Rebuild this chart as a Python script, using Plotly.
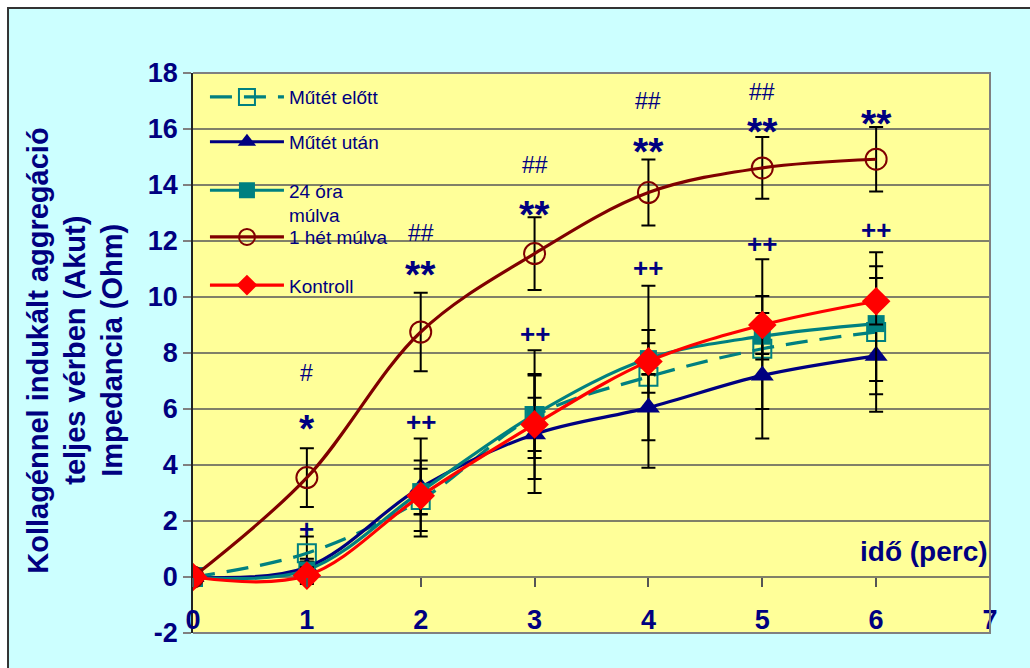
import plotly.graph_objects as go

# Time points (minutes)
minutes = [0, 1, 2, 3, 4, 5, 6]

# Value axis ticks and their labels (plain hyphen for negatives)
y_ticks = [-2, 0, 2, 4, 6, 8, 10, 12, 14, 16, 18]
y_tick_labels = ["-2", "0", "2", "4", "6", "8", "10", "12", "14", "16", "18"]

# Mean impedance (Ohm) and SD for each group
mutet_elott = [0, 0.85, 2.75, 5.75, 7.15, 8.15, 8.75]
mutet_elott_sd = [0, 0.6, 0.5, 1.5, 3.25, 3.2, 2.85]

mutet_utan = [0, 0.35, 3.2, 5.1, 6.05, 7.2, 7.9]
mutet_utan_sd = [0, 0.3, 1.75, 2.1, 1.17, 1.2, 1.37]

ora24 = [0, 0.25, 3.05, 5.8, 7.8, 8.6, 9.05]
ora24_sd = [0, 0.3, 0.82, 2.3, 0.55, 0.83, 2.05]

het1 = [0, 3.55, 8.75, 11.55, 13.73, 14.61, 14.92]
het1_sd = [0, 1.05, 1.4, 1.3, 1.18, 1.1, 1.15]

kontroll = [0, 0.05, 2.9, 5.45, 7.7, 9.0, 9.85]
kontroll_sd = [0, 0.3, 1.26, 0.95, 1.12, 1.04, 0.83]

# Significance marks: (x, text, y level)
hash_marks = [(1, "#", 7.28), (2, "##", 12.3), (3, "##", 14.7),
              (4, "##", 16.99), (5, "##", 17.32), (6, "#", 18.1)]
star_marks = [(1, "*", 5.3), (2, "**", 10.8), (3, "**", 12.95),
              (4, "**", 15.2), (5, "**", 15.9), (6, "**", 16.2)]
plus_marks = [(1, "+", 1.72), (2, "++", 5.52), (3, "++", 8.68),
              (4, "++", 11.04), (5, "++", 11.9), (6, "++", 12.4)]

NAVY = "#000080"
FONT = "Liberation Sans"

series = [
    dict(name="Műtét előtt", y=mutet_elott, sd=mutet_elott_sd, color="#008080",
         dash="22px,12px", symbol="square-open", size=18, mline=2, legend="legend"),
    dict(name="Műtét után", y=mutet_utan, sd=mutet_utan_sd, color=NAVY,
         dash="solid", symbol="triangle-up", size=20, mline=0, legend="legend2"),
    dict(name="24 óra<br>múlva", y=ora24, sd=ora24_sd, color="#008080",
         dash="solid", symbol="square", size=17, mline=0, legend="legend3"),
    dict(name="1 hét múlva", y=het1, sd=het1_sd, color="#800000",
         dash="solid", symbol="circle-open", size=21, mline=2, legend="legend4"),
    dict(name="Kontroll", y=kontroll, sd=kontroll_sd, color="#FF0000",
         dash="solid", symbol="diamond", size=22, mline=0, legend="legend5"),
]

fig = go.Figure()
for s in series:
    fig.add_trace(go.Scatter(
        x=minutes, y=s["y"], name=s["name"], mode="lines+markers",
        line=dict(color=s["color"], width=3.2, dash=s["dash"], shape="spline", smoothing=1),
        marker=dict(symbol=s["symbol"], size=s["size"], color=s["color"],
                    line=dict(width=s["mline"], color=s["color"])),
        error_y=dict(type="data", array=s["sd"], visible=True,
                     color="black", thickness=2, width=7),
        legend=s["legend"],
    ))

annotations = []
for x, t, y in hash_marks:
    annotations.append(dict(x=x, y=y, text=t, showarrow=False,
                            font=dict(family=FONT, size=23, color=NAVY)))
for x, t, y in star_marks:
    annotations.append(dict(x=x, y=y, text=t, showarrow=False,
                            font=dict(family=FONT, size=39, color=NAVY, weight="bold")))
for x, t, y in plus_marks:
    annotations.append(dict(x=x, y=y, text=t, showarrow=False,
                            font=dict(family=FONT, size=26, color=NAVY, weight="bold")))

# x-axis caption inside the plot area
annotations.append(dict(xref="paper", yref="paper", x=1.0, y=0.146, xanchor="right",
                        yanchor="middle", text="idő (perc)", showarrow=False,
                        font=dict(family=FONT, size=28, color=NAVY, weight="bold")))

# rotated three-line y-axis caption
y_title_lines = ["Kollagénnel indukált aggregáció", "teljes vérben (Akut)", "Impedancia (Ohm)"]
for i, line in enumerate(y_title_lines):
    annotations.append(dict(xref="paper", yref="paper", x=(38 + 37 * i - 193) / 797, y=0.504,
                            xanchor="center", yanchor="middle", textangle=-90,
                            text=line, showarrow=False,
                            font=dict(family=FONT, size=29, color=NAVY, weight="bold")))

legend_common = dict(x=0.015, xanchor="left", yanchor="middle", bgcolor="rgba(0,0,0,0)",
                     font=dict(family=FONT, size=19, color=NAVY), itemwidth=74,
                     valign="top")
legend_y = {"legend": 0.957, "legend2": 0.877, "legend3": 0.768,
            "legend4": 0.707, "legend5": 0.621}

shapes = [
    # top, right and bottom border of the plot area
    dict(type="path", xref="paper", yref="paper", path="M 0 1 L 1 1 L 1 0 L 0 0",
         line=dict(color="#808080", width=2)),
    # outer white margin and frame
    dict(type="rect", xref="paper", yref="paper", x0=-0.3, x1=1.1, y0=1.1161, y1=1.3,
         fillcolor="white", line=dict(width=0)),
    dict(type="rect", xref="paper", yref="paper", x0=-0.3, x1=-0.2321, y0=-0.3, y1=1.3,
         fillcolor="white", line=dict(width=0)),
    dict(type="path", xref="paper", yref="paper",
         path="M -0.2321 -0.3 L -0.2321 1.1161 L 1.1 1.1161",
         line=dict(color="#333333", width=2)),
]

fig.update_layout(
    width=1030, height=668,
    margin=dict(l=193, r=40, t=73, b=35),
    paper_bgcolor="#CCFFFF", plot_bgcolor="#FFFF99",
    font=dict(family=FONT, color=NAVY),
    showlegend=True,
    annotations=annotations,
    shapes=shapes,
    # x axis crosses the value axis at zero; labels pushed down to the bottom edge
    xaxis=dict(range=[0, 7], dtick=1, tick0=0, showgrid=False, zeroline=False,
               anchor="free", position=0.1, showline=False,
               ticks="outside", ticklen=9, tickwidth=1.5, tickcolor="#555555",
               ticklabelstandoff=10,
               tickfont=dict(family=FONT, size=27, color=NAVY, weight="bold")),
    yaxis=dict(range=[-2, 18], tickmode="array", tickvals=y_ticks, ticktext=y_tick_labels,
               showgrid=True, gridcolor="#808068",
               gridwidth=2, zeroline=False, showline=True, linecolor="#222222",
               linewidth=1.5, ticks="outside", ticklen=8, tickwidth=2,
               tickcolor="#808080",
               tickfont=dict(family=FONT, size=27, color=NAVY, weight="bold")),
)
for key, yv in legend_y.items():
    fig.update_layout({key: dict(legend_common, y=yv)})

fig.write_html("out.html")
